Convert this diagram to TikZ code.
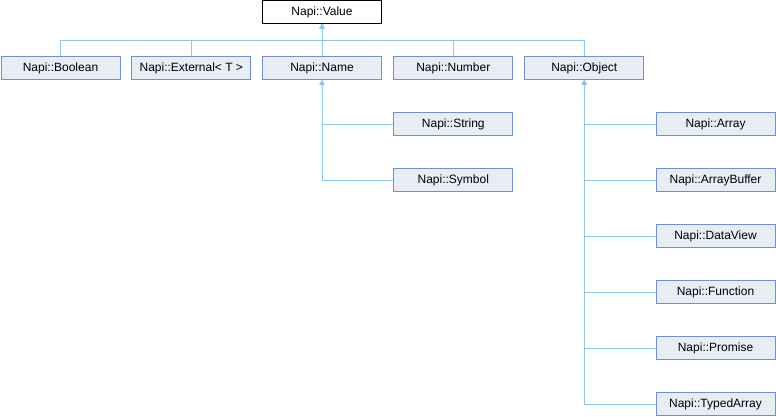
\documentclass[tikz,border=0pt]{standalone}
\usepackage{fontspec}
\setmainfont{Liberation Sans}
\usetikzlibrary{arrows.meta}
\definecolor{boxfill}{HTML}{E8ECF4}
\definecolor{boxline}{HTML}{7091C9}
\definecolor{edgecol}{HTML}{8CC8EC}
\begin{document}
\begin{tikzpicture}[x=1pt,y=-1pt,
  cls/.style={draw=boxline,fill=boxfill,line width=1pt,minimum width=119pt,minimum height=22.5pt,inner sep=0pt,font=\fontsize{12}{14}\selectfont},
  root/.style={cls,draw=black,fill=white},
  edge/.style={draw=edgecol,line width=1pt,-{Triangle[length=5pt,width=5pt]}}]
\useasboundingbox (0,0) rectangle (776,416);
\node[root] (value) at (322,12) {Napi::Value};
\node[cls] (boolean) at (60.5,68) {Napi::Boolean};
\node[cls] (external) at (191.3,68) {Napi::External< T >};
\node[cls] (name) at (322,68) {Napi::Name};
\node[cls] (number) at (453.3,68) {Napi::Number};
\node[cls] (object) at (584.3,68) {Napi::Object};
\node[cls] (string) at (453.3,124) {Napi::String};
\node[cls] (symbol) at (453.3,180) {Napi::Symbol};
\node[cls] (array) at (715.5,124) {Napi::Array};
\node[cls] (arraybuffer) at (715.5,180) {Napi::ArrayBuffer};
\node[cls] (dataview) at (715.5,236) {Napi::DataView};
\node[cls] (function) at (715.5,292) {Napi::Function};
\node[cls] (promise) at (715.5,348) {Napi::Promise};
\node[cls] (typedarray) at (715.5,404) {Napi::TypedArray};
\coordinate (bus) at (322,40.5);
\foreach \c in {boolean,external,number,object}
  \draw[edge] (\c.north) |- (bus) -- (value.south);
\draw[edge] (name.north) -- (value.south);
\foreach \c in {string,symbol}
  \draw[edge] (\c.west) -| (name.south);
\foreach \c in {array,arraybuffer,dataview,function,promise,typedarray}
  \draw[edge] (\c.west) -| (object.south);
\end{tikzpicture}
\end{document}
